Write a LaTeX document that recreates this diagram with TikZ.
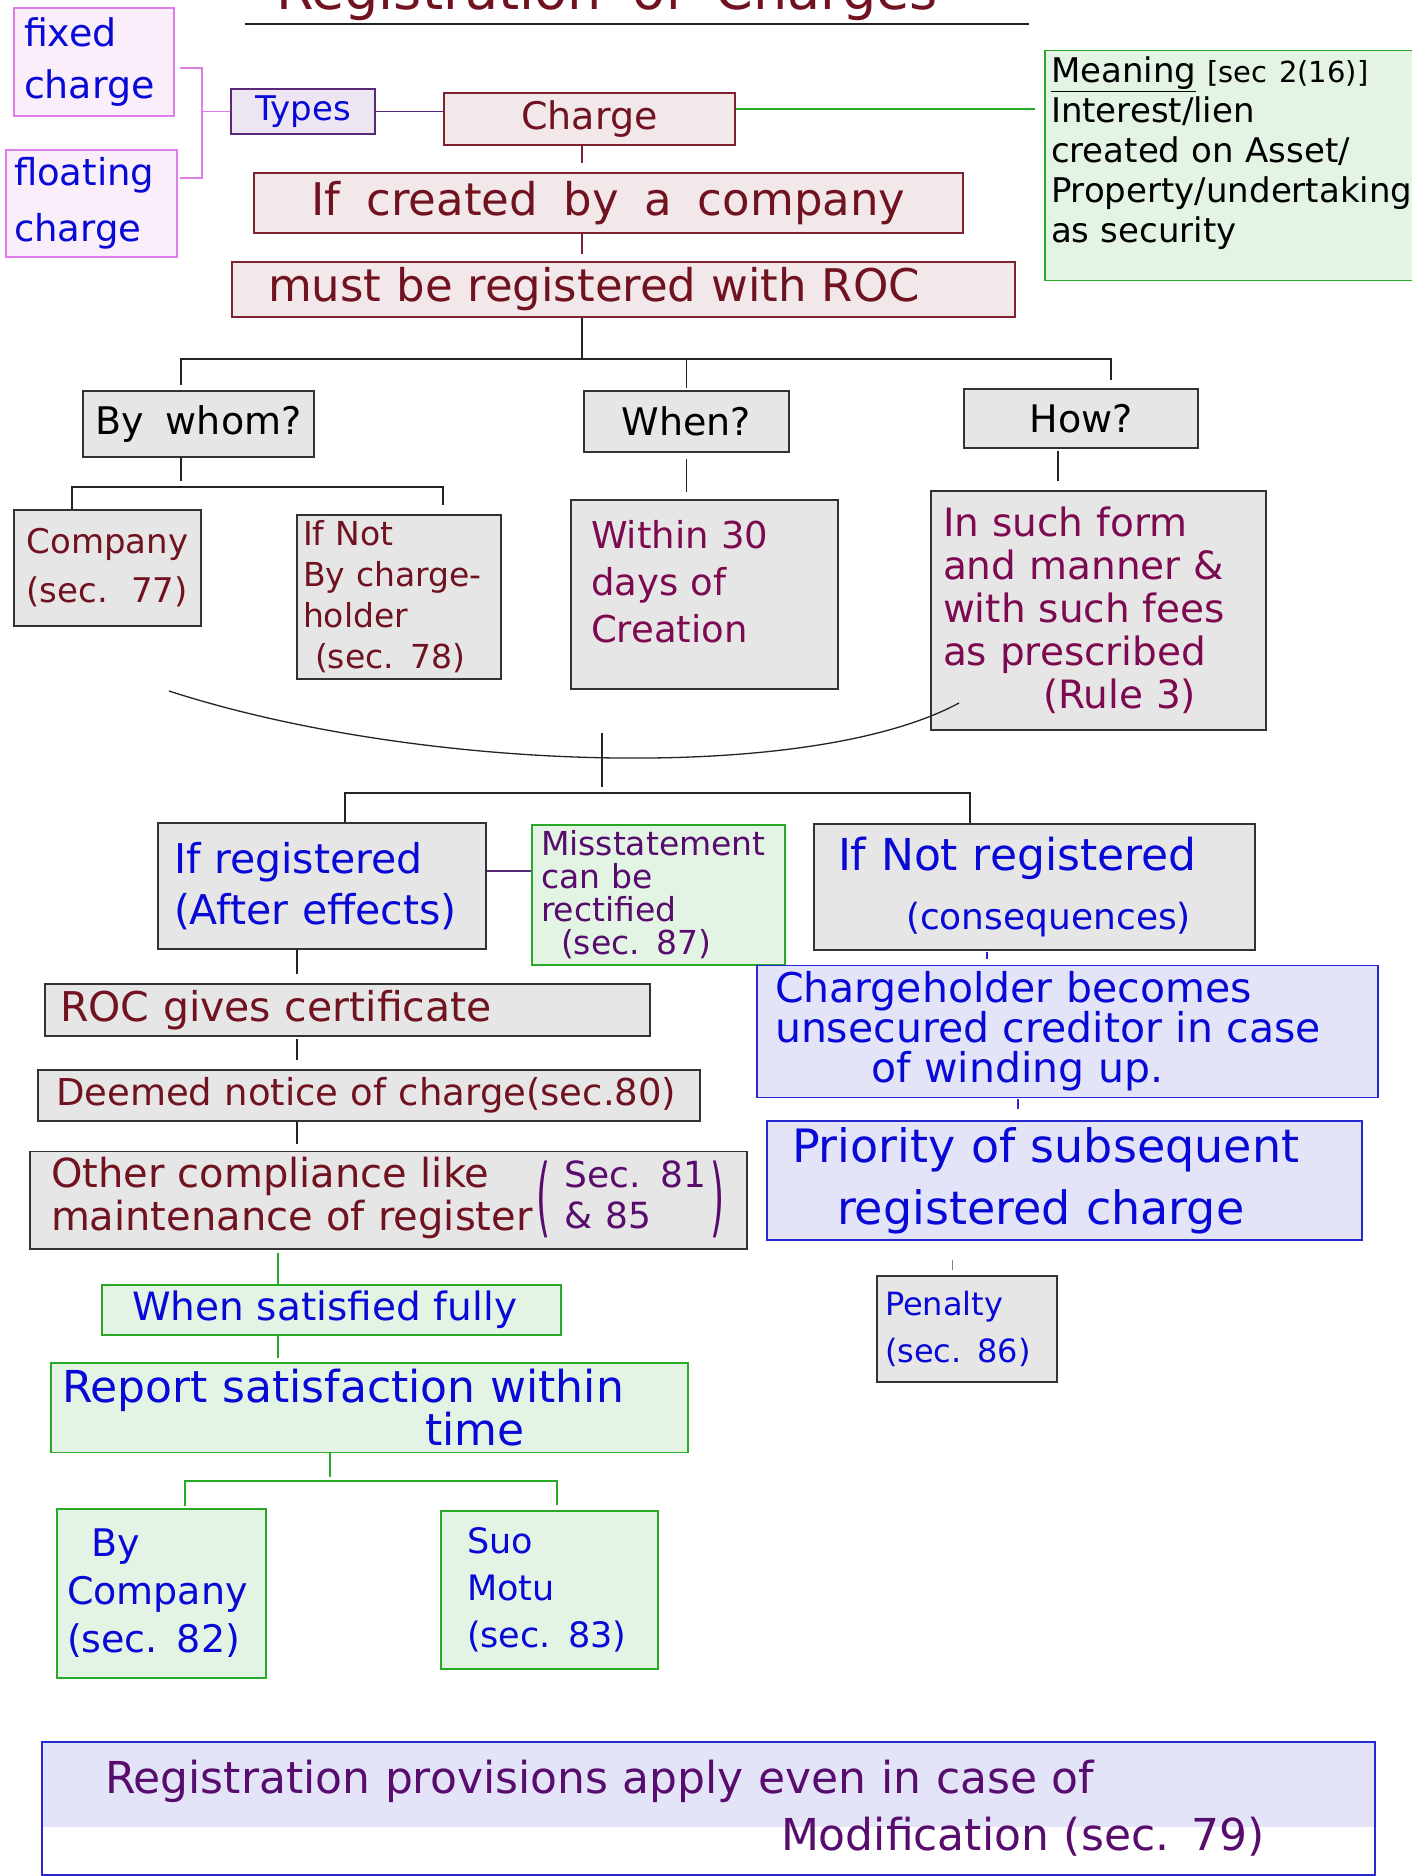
\documentclass[tikz,border=0pt]{standalone}
\usepackage{graphicx}
\usepackage{fontspec}
\setmainfont{DejaVu Sans}[WordSpace=1.8]
\usetikzlibrary{positioning,calc}
\definecolor{inkred}{RGB}{112,18,32}
\definecolor{inkblue}{RGB}{8,8,215}
\definecolor{inkpurple}{RGB}{88,12,110}
\definecolor{inkplum}{RGB}{125,10,80}
\definecolor{grayfill}{RGB}{230,230,230}
\definecolor{grayline}{RGB}{50,50,50}
\definecolor{redfill}{RGB}{242,232,234}
\definecolor{redline}{RGB}{125,35,48}
\definecolor{greenfill}{RGB}{228,244,228}
\definecolor{greenline}{RGB}{40,170,40}
\definecolor{bluefill}{RGB}{228,228,248}
\definecolor{blueline}{RGB}{40,40,210}
\definecolor{pinkfill}{RGB}{249,238,250}
\definecolor{pinkline}{RGB}{222,125,232}
\definecolor{typesfill}{RGB}{237,230,242}
\definecolor{typesline}{RGB}{90,40,120}
\definecolor{linkgray}{RGB}{35,35,35}
\newcommand{\inksize}[2]{\fontsize{#1}{#2}\selectfont}
\newcommand{\tallparen}[1]{\raisebox{-20pt}{\scalebox{1}[2.4]{#1}}}

\begin{document}
\begin{tikzpicture}[
    x=1pt,y=-1pt,
    box/.style={draw,line width=1.6pt,inner sep=6pt,align=left},
    graybox/.style={box,draw=grayline,fill=grayfill},
    redbox/.style={box,draw=redline,fill=redfill},
    greenbox/.style={box,draw=greenline,fill=greenfill},
    bluebox/.style={box,draw=blueline,fill=bluefill},
    pinkbox/.style={box,draw=pinkline,fill=pinkfill},
    link/.style={line width=1.3pt,draw=linkgray},
    redlink/.style={line width=1.2pt,draw=redline},
    greenlink/.style={line width=1.3pt,draw=greenline},
    bluelink/.style={line width=1.2pt,draw=blueline},
    purplelink/.style={line width=1.4pt,draw=typesline},
    pinklink/.style={line width=1.3pt,draw=pinkline}
]
\useasboundingbox (0,0) rectangle (1412,1876);

% title
\node[text=inkred,font=\inksize{54}{60},anchor=base,inner sep=0pt] (title) at (607,10) {Registration of Charges};
\draw[link,line width=1.6pt] (245,24) -- (1029,24);

% top part
\node[pinkbox,minimum width=160pt,minimum height=108pt,text width=140pt,inner xsep=10pt,text=inkblue,font=\inksize{38}{52}] (fixed) at (94,62) {fixed\\charge};
\node[pinkbox,minimum width=171pt,minimum height=107pt,text width=155pt,inner xsep=8pt,text=inkblue,font=\inksize{37}{56}] (floating) at (91.5,203.5) {floating\\charge};
\node[box,draw=typesline,fill=typesfill,minimum width=144pt,minimum height=45pt,text=inkblue,font=\inksize{34}{36}] (types) at (303,111.5) {Types};
\node[redbox,minimum width=291pt,minimum height=52pt,text=inkred,font=\inksize{38}{40}] (charge) at (589.5,119) {Charge};
\node[greenbox,minimum width=375pt,minimum height=225pt,text width=363pt,inner xsep=6pt,text=black,font=\inksize{34}{40}] (meaning) at (1232.5,165.5)
  {\underline{Meaning} {\inksize{29}{40}[sec 2(16)]}\\Interest/lien\\created on Asset/\\Property/undertaking\\as security\\[-8pt]\mbox{}};
\node[redbox,minimum width=709pt,minimum height=60pt,text=inkred,font=\inksize{45}{48}] (created) at (608.5,203) {If created by a company};
\node[redbox,minimum width=783pt,minimum height=51pt,text width=711pt,inner xsep=36pt,text=inkred,font=\inksize{45}{48}] (must) at (623.5,289.5) {must be registered with ROC};

% questions
\node[graybox,minimum width=231pt,minimum height=66pt,text=black,font=\inksize{38}{42}] (whom) at (198.5,424) {By whom?};
\node[graybox,minimum width=205pt,minimum height=61pt,text=black,font=\inksize{38}{42}] (when) at (686.5,421.5) {When?};
\node[graybox,minimum width=234pt,minimum height=59pt,text=black,font=\inksize{38}{42}] (how) at (1081,418.5) {How?};
\node[graybox,minimum width=187pt,minimum height=116pt,text=inkred,font=\inksize{34}{49}] (company) at (107.5,568) {Company\\(sec. 77)};
\node[graybox,minimum width=204pt,minimum height=158pt,text width=192pt,text=inkred,font=\inksize{33}{41}] (holder) at (399,597) {If Not\\By charge-\\holder\\\hspace*{12pt}(sec. 78)};
\node[graybox,minimum width=267pt,minimum height=189pt,text width=227pt,inner xsep=20pt,text=inkplum,font=\inksize{37}{47}] (within) at (704.5,594.5) {Within 30\\days of\\Creation\\[-20pt]\mbox{}};
\node[graybox,minimum width=335pt,minimum height=239pt,text width=311pt,inner xsep=12pt,text=inkplum,font=\inksize{39}{43}] (form) at (1098.5,610.5)
  {In such form\\and manner \&\\with such fees\\as prescribed\\\hspace*{100pt}(Rule 3)};

% after effects and consequences
\node[graybox,minimum width=328pt,minimum height=126pt,text width=296pt,inner xsep=16pt,text=inkblue,font=\inksize{41}{51}] (reg) at (322,886) {If registered\\(After effects)};
\node[greenbox,minimum width=253pt,minimum height=138pt,text width=235pt,inner xsep=9pt,text=inkpurple,font=\inksize{33}{33}] (misst) at (658.5,895) {Misstatement\\can be\\rectified\\\hspace*{20pt}(sec. 87)};
\node[graybox,minimum width=441pt,minimum height=126pt,text width=393pt,inner xsep=24pt,text=inkblue,font=\inksize{44}{59}] (notreg) at (1034.5,887) {If Not registered\\{\inksize{36}{59}\hspace*{68pt}(consequences)}};
\node[graybox,minimum width=605pt,minimum height=46pt,text width=575pt,inner xsep=15pt,text=inkred,font=\inksize{41}{44}] (cert) at (347.5,1010) {ROC gives certificate};
\node[graybox,minimum width=662pt,minimum height=51pt,text width=644pt,inner xsep=9pt,text=inkred,font=\inksize{37}{40}] (deemed) at (369,1095.5) {\hspace*{9pt}Deemed notice of charge(sec.80)};
\node[graybox,minimum width=717pt,minimum height=96pt,text width=675pt,inner xsep=21pt,text=inkred,font=\inksize{40}{41}] (other) at (388.5,1200)
  {\mbox{\begin{tabular}{@{}l@{}}Other compliance like\\maintenance of register\end{tabular}\hspace{4pt}\textcolor{inkpurple}{\inksize{36}{41}\tallparen{(}\hspace{14pt}\begin{tabular}{@{}l@{}}Sec. 81\\\& 85\end{tabular}\hspace{4pt}\tallparen{)}}}};
\node[greenbox,minimum width=459pt,minimum height=48pt,text width=399pt,inner xsep=30pt,text=inkblue,font=\inksize{39}{42}] (satisfied) at (331.5,1310) {When satisfied fully};
\node[greenbox,minimum width=637pt,minimum height=85pt,text width=615pt,inner xsep=11pt,text=inkblue,font=\inksize{44}{40}] (report) at (369.5,1407.5) {Report satisfaction within\\\hspace*{363pt}time};
\node[greenbox,minimum width=209pt,minimum height=169pt,text width=189pt,inner xsep=10pt,text=inkblue,font=\inksize{38}{48}] (bycomp) at (161.5,1593.5) {\hspace*{24pt}By\\Company\\(sec. 82)};
\node[greenbox,minimum width=217pt,minimum height=158pt,text width=165pt,inner xsep=26pt,text=inkblue,font=\inksize{35}{47}] (suo) at (549.5,1590) {Suo\\Motu\\(sec. 83)};
\node[bluebox,minimum width=621pt,minimum height=117pt,text width=585pt,inner xsep=18pt,text=inkblue,font=\inksize{41}{40}] (unsec) at (1067.5,1031.5) {Chargeholder becomes\\unsecured creditor in case\\\hspace*{96pt}of winding up.};
\node[bluebox,minimum width=595pt,minimum height=119pt,text width=545pt,inner xsep=25pt,text=inkblue,font=\inksize{46}{62}] (priority) at (1064.5,1180.5) {Priority of subsequent\\\hspace*{45pt}registered charge};
\node[graybox,minimum width=180pt,minimum height=106pt,text width=164pt,inner xsep=8pt,text=inkblue,font=\inksize{32}{47}] (penalty) at (967,1329) {Penalty\\(sec. 86)};

% note at the bottom
\node[bluebox,fill=none,minimum width=1333pt,minimum height=133pt,text width=1207pt,inner xsep=63pt,text=inkpurple,font=\inksize{44}{57},
  path picture={\fill[bluefill] (path picture bounding box.north west) rectangle ([yshift=-85pt]path picture bounding box.north east);}] (modif) at (708.5,1808.5)
  {Registration provisions apply even in case of\\\hspace*{676pt}Modification (sec. 79)};

% types bracket
\coordinate (brtop) at (180,68);
\coordinate (brbot) at (180,178);
\coordinate (brx) at (202,0);
\draw[pinklink] (brtop) -- (brtop -| brx) -- (brbot -| brx) -- (brbot);
\draw[pinklink] (types.west) -- (types.west -| brx);
\draw[purplelink] (types.east) -- (types.east -| charge.west);
\coordinate (meanjoin) at ([yshift=10pt]charge.east);
\draw[greenlink,shorten >=9pt] (meanjoin) -- (meanjoin -| meaning.west);

% main spine
\coordinate (spine) at (582,0);
\draw[redlink,shorten >=9pt] (charge.south -| spine) -- (created.north -| spine);
\draw[redlink,shorten >=7pt] (created.south -| spine) -- (must.north -| spine);
\coordinate (busL) at (181,359);
\coordinate (busR) at (1111,359);
\draw[link] (must.south -| spine) -- (spine |- busL);
\draw[link,shorten <=5pt,shorten >=8pt] (whom.north -| busL) -- (busL) -- (busR) -- (how.north -| busR);
\draw[link,shorten <=2pt] (when.north) -- (when.north |- busL);

% by whom
\coordinate (subL) at (72,487);
\coordinate (subR) at (443,487);
\draw[link,shorten >=6pt] (whom.south -| busL) -- (busL |- subL);
\draw[link,shorten >=9pt] (company.north -| subL) -- (subL) -- (subR) -- (holder.north -| subR);
\draw[link,shorten <=6pt,shorten >=7pt] (when.south) -- (when.south |- within.north);
\coordinate (howdrop) at ([xshift=-23pt]how.south);
\draw[link,shorten <=2pt,shorten >=9pt] (howdrop) -- (howdrop |- form.north);

% gathering arc
\coordinate (arcL) at (169,691);
\coordinate (arcR) at (959,703);
\draw[link] (arcL) .. controls (419,772) and (809,784) .. (arcR);
\coordinate (arcM) at (602,733);
\coordinate (bus2L) at (345,793);
\coordinate (bus2R) at (970,793);
\draw[link,shorten >=6pt] (arcM) -- (arcM |- bus2L);
\draw[link] (reg.north -| bus2L) -- (bus2L) -- (bus2R) -- (notreg.north -| bus2R);
\coordinate (misjoin) at ([yshift=15pt]reg.east);
\draw[purplelink] (misjoin) -- (misjoin -| misst.west);

% after effects chain
\coordinate (lspine) at (297,0);
\draw[link,shorten >=9pt] (reg.south -| lspine) -- (cert.north -| lspine);
\draw[link,shorten <=2pt,shorten >=9pt] (cert.south -| lspine) -- (deemed.north -| lspine);
\draw[link,shorten >=7pt] (deemed.south -| lspine) -- (other.north -| lspine);
\coordinate (gspine) at (278,0);
\draw[greenlink,shorten <=3pt] (other.south -| gspine) -- (satisfied.north -| gspine);
\draw[greenlink,shorten >=4pt] (satisfied.south -| gspine) -- (report.north -| gspine);
\coordinate (rspine) at (330,0);
\coordinate (bus3L) at (185,1481);
\coordinate (bus3R) at (557,1481);
\draw[greenlink,shorten >=4pt] (report.south -| rspine) -- (rspine |- bus3L);
\draw[greenlink,shorten <=2pt,shorten >=5pt] (bycomp.north -| bus3L) -- (bus3L) -- (bus3R) -- (suo.north -| bus3R);

% consequences chain
\coordinate (ndrop) at (987,0);
\draw[bluelink,shorten <=1pt,shorten >=6pt] (notreg.south -| ndrop) -- (unsec.north -| ndrop);
\coordinate (pdrop) at (1018,0);
\draw[bluelink,shorten <=1pt,shorten >=11pt] (unsec.south -| pdrop) -- (priority.north -| pdrop);
\coordinate (qdrop) at (952,0);
\draw[link,line width=1pt,draw=gray,shorten <=19pt,shorten >=5pt] (priority.south -| qdrop) -- (penalty.north -| qdrop);
\end{tikzpicture}
\end{document}
